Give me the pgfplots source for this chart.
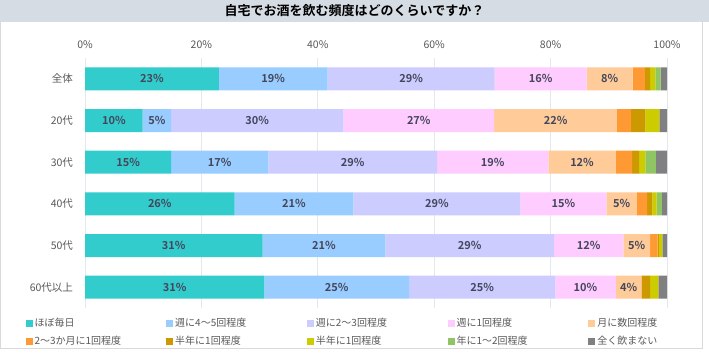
\documentclass[border=0pt]{standalone}
\usepackage{fontspec}
\setmainfont{Noto Sans CJK JP}[BoldFont={Noto Sans CJK JP Bold}]
\usepackage{pgfplots}
\usepackage{pgfplotstable}
\pgfplotsset{compat=1.18}
\definecolor{cTeal}{HTML}{33CCCC}
\definecolor{cBlue}{HTML}{99CCFF}
\definecolor{cLav}{HTML}{CCCCFF}
\definecolor{cPink}{HTML}{FFCCFF}
\definecolor{cPeach}{HTML}{FFCC99}
\definecolor{cOrange}{HTML}{FF9933}
\definecolor{cGold}{HTML}{CC9900}
\definecolor{cYellow}{HTML}{CCCC00}
\definecolor{cGreen}{HTML}{8FC562}
\definecolor{cGray}{HTML}{808080}
\definecolor{cGrid}{HTML}{E4E7EE}
\definecolor{cLabel}{HTML}{44475C}
\definecolor{cTick}{HTML}{595959}
\definecolor{cTitleBg}{HTML}{D6DCE4}
\definecolor{cFrame}{HTML}{D9D9D9}

% segment widths (percent), rows: 全体, 20代, 30代, 40代, 50代, 60代以上
\pgfplotstableread{
y teal blue lav pink peach orange gold yellow green gray
0 23.0 18.7 28.7 15.8 7.9 2.1 0.9 0.9 0.9 1.1
1 9.9 4.9 29.6 25.9 21.1 2.4 2.5 2.4 0 1.3
2 14.8 16.7 29.0 19.1 11.6 2.8 1.2 1.1 1.8 1.9
3 25.7 20.4 28.7 14.8 5.2 1.8 0.9 0.7 0.9 0.9
4 30.5 21.1 29.0 11.9 4.6 1.3 0.2 0.6 0 0.8
5 30.8 24.9 25.1 10.4 4.4 0.1 1.4 1.4 0 1.5
}\datatable

% label positions (segment centres) and printed values
\pgfplotstableread{
x y lab
11.5 0 23
32.35 0 19
56.05 0 29
78.3 0 16
90.15 0 8
4.95 1 10
12.35 1 5
29.6 1 30
57.35 1 27
80.85 1 22
7.4 2 15
23.15 2 17
46.0 2 29
70.05 2 19
85.4 2 12
12.85 3 26
35.9 3 21
60.45 3 29
82.2 3 15
92.2 3 5
15.25 4 31
41.05 4 21
66.1 4 29
86.55 4 12
94.8 4 5
15.4 5 31
43.25 5 25
68.25 5 25
86.0 5 10
93.4 5 4
}\labeltable

\pgfplotsset{
  basegeom/.style={
    scale only axis, width=582bp, height=250bp,
    at={(85bp,48bp)}, anchor=south west,
    xmin=0, xmax=100, ymin=-0.5, ymax=5.5, y dir=reverse,
  },
}

\begin{document}
\begin{tikzpicture}[x=1bp,y=1bp]
\path[use as bounding box] (0,0) rectangle (709,356);
\fill[white] (0,0) rectangle (709,356);
\draw[cFrame, line width=1bp] (0.5,8) rectangle (702.5,355.5);
\fill[cTitleBg] (0,334) rectangle (709,356);
\node[font=\fontsize{13bp}{15bp}\selectfont\bfseries, text=black] at (354.5,345) {自宅でお酒を飲む頻度はどのくらいですか？};

\begin{axis}[
  basegeom,
  xbar stacked,
  bar width=23bp,
  axis line style={draw=none},
  major tick length=0pt,
  xmajorgrids, grid style={cGrid, line width=1bp},
  xtick={0,20,40,60,80,100},
  xticklabel pos=upper,
  xticklabel={\pgfmathprintnumber{\tick}\%},
  /pgf/number format/assume math mode=true,
  xticklabel style={font=\fontsize{10.5bp}{12bp}\selectfont, text=cTick, yshift=6bp},
  ytick={0,1,2,3,4,5},
  yticklabels={全体,20代,30代,40代,50代,60代以上},
  yticklabel style={font=\fontsize{10.5bp}{12bp}\selectfont, text=cTick, xshift=-8.5bp},
  every axis plot post/.append style={
    legend image code/.code={\fill[##1,draw=none] (0bp,-3.5bp) rectangle (7bp,3.5bp);}},
  legend columns=5,
  legend cell align=left,
  legend style={
    at={(axis description cs:-0.1077,-0.029)}, anchor=north west,
    draw=none, fill=none,
    font=\fontsize{10bp}{12bp}\selectfont,
    text=cTick,
    column sep=0pt, row sep=5.7bp,
    nodes={text width=129.7bp, align=left, inner xsep=2bp, inner ysep=1bp, text height=8bp, text depth=2bp},
  },
]
\addplot[fill=cTeal, draw=none] table[x=teal, y=y] {\datatable};
\addlegendentry{ほぼ毎日}
\addplot[fill=cBlue, draw=none] table[x=blue, y=y] {\datatable};
\addlegendentry{週に4～5回程度}
\addplot[fill=cLav, draw=none] table[x=lav, y=y] {\datatable};
\addlegendentry{週に2～3回程度}
\addplot[fill=cPink, draw=none] table[x=pink, y=y] {\datatable};
\addlegendentry{週に1回程度}
\addplot[fill=cPeach, draw=none] table[x=peach, y=y] {\datatable};
\addlegendentry{月に数回程度}
\addplot[fill=cOrange, draw=none] table[x=orange, y=y] {\datatable};
\addlegendentry{2～3か月に1回程度}
\addplot[fill=cGold, draw=none] table[x=gold, y=y] {\datatable};
\addlegendentry{半年に1回程度}
\addplot[fill=cYellow, draw=none] table[x=yellow, y=y] {\datatable};
\addlegendentry{半年に1回程度}
\addplot[fill=cGreen, draw=none] table[x=green, y=y] {\datatable};
\addlegendentry{年に1～2回程度}
\addplot[fill=cGray, draw=none] table[x=gray, y=y] {\datatable};
\addlegendentry{全く飲まない}
\end{axis}

\begin{axis}[
  basegeom,
  hide axis,
  clip=false,
]
\addplot[draw=none, mark=none,
  point meta=explicit symbolic,
  nodes near coords={\pgfplotspointmeta\%},
  every node near coord/.append style={anchor=center, font=\fontsize{11bp}{13bp}\selectfont\bfseries, text=cLabel},
] table[x=x, y=y, meta=lab] {\labeltable};
\end{axis}
\end{tikzpicture}
\end{document}
